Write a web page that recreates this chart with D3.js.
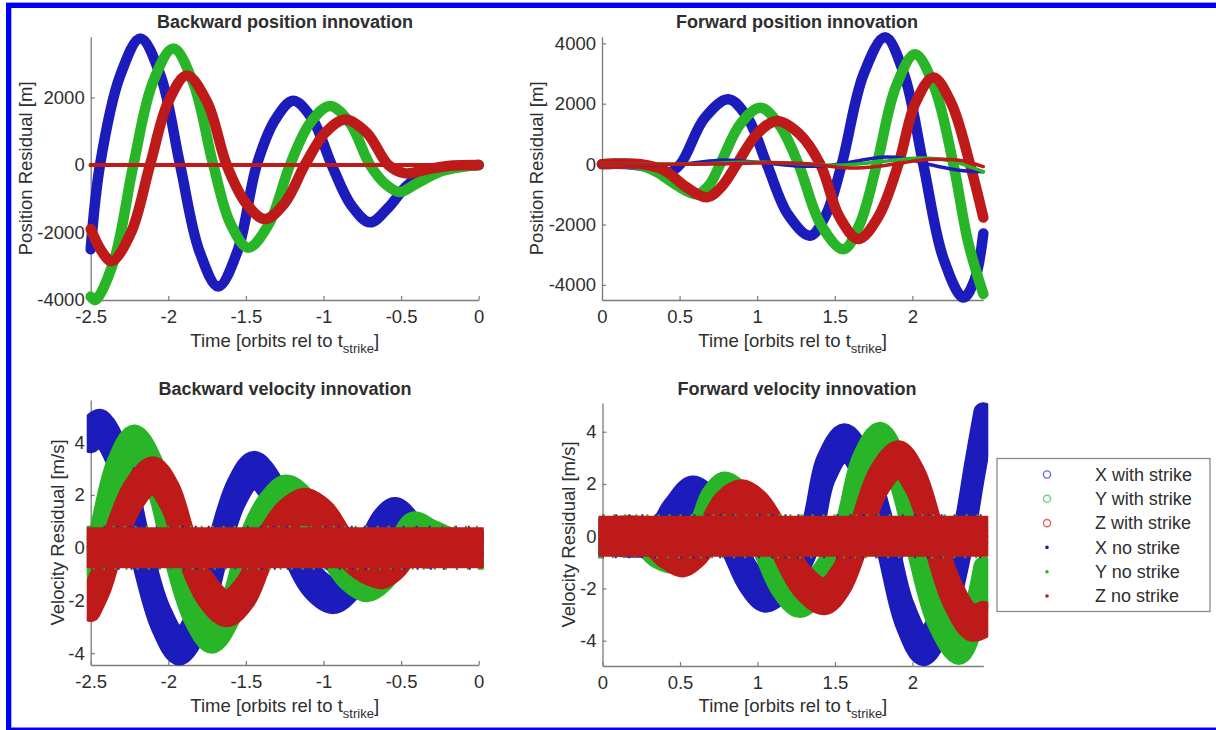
<!DOCTYPE html>
<html>
<head>
<meta charset="utf-8">
<script src="https://cdn.jsdelivr.net/npm/d3@7"></script>
<style>
  html, body { margin: 0; padding: 0; background: #fff; }
  svg text { font-family: "Liberation Sans", Arial, Helvetica, sans-serif; fill: #2e2e2e; }
</style>
</head>
<body>
<svg id="fig" width="1216" height="730"></svg>
<script>
// ---- data: [time in orbits, residual] ----
const xTicksBack = [-2.5, -2, -1.5, -1, -0.5, 0];
const xTicksFwd = [0, 0.5, 1, 1.5, 2];
const yTicksPosBack = [-4000, -2000, 0, 2000];
const yTicksPosFwd = [-4000, -2000, 0, 2000, 4000];
const yTicksVel = [-4, -2, 0, 2, 4];
const legendLabels = ["X with strike", "Y with strike", "Z with strike", "X no strike", "Y no strike", "Z no strike"];

// backward position [m]
const backPosX = [[-2.5,-2500],[-2.44,0],[-2.31,2650],[-2.18,3750],[-2.05,2650],[-1.924,0],[-1.80,-2550],[-1.678,-3600],[-1.554,-2550],[-1.43,0],[-1.31,1350],[-1.195,1900],[-1.07,1350],[-0.947,0],[-0.82,-1200],[-0.70,-1700],[-0.58,-1250],[-0.46,-600],[-0.33,-250],[-0.18,-80],[0,0]];
const backPosY = [[-2.5,-3900],[-2.47,-4000],[-2.35,-2830],[-2.225,0],[-2.10,2440],[-1.968,3450],[-1.84,2440],[-1.71,0],[-1.60,-1730],[-1.485,-2450],[-1.35,-1730],[-1.216,0],[-1.087,1240],[-0.958,1750],[-0.83,1240],[-0.70,0],[-0.60,-570],[-0.507,-800],[-0.40,-550],[-0.25,-200],[-0.10,-50],[0,0]];
const backPosZ = [[-2.5,-1900],[-2.43,-2550],[-2.365,-2850],[-2.24,-2000],[-2.118,0],[-2.0,1870],[-1.881,2650],[-1.75,1870],[-1.624,0],[-1.50,-1130],[-1.377,-1600],[-1.25,-1130],[-1.12,0],[-0.99,950],[-0.861,1350],[-0.72,950],[-0.582,0],[-0.47,-250],[-0.35,-150],[-0.2,-30],[0,0]];
const backPosNoX = [[-2.5,0],[-2,0],[-1.5,0],[-1,0],[-0.5,0],[0,0]];
const backPosNoY = [[-2.5,0],[-2,0],[-1.5,0],[-1,0],[-0.5,0],[0,0]];
const backPosNoZ = [[-2.5,0],[-2,0],[-1.5,0],[-1,0],[-0.5,0],[0,0]];

// forward position [m]
const fwdPosX = [[0,0],[0.15,0],[0.3,-100],[0.42,-300],[0.505,0],[0.66,1520],[0.815,2150],[0.94,1520],[1.062,0],[1.20,-1680],[1.341,-2370],[1.443,-1680],[1.545,0],[1.685,2970],[1.824,4200],[1.947,2970],[2.07,0],[2.20,-3125],[2.328,-4420],[2.40,-3850],[2.457,-2300]];
const fwdPosY = [[0,0],[0.2,0],[0.35,-250],[0.48,-700],[0.612,-1000],[0.69,-700],[0.762,0],[0.89,1320],[1.019,1870],[1.14,1320],[1.266,0],[1.41,-2000],[1.556,-2820],[1.66,-2000],[1.771,0],[1.894,2570],[2.017,3640],[2.14,2570],[2.264,0],[2.36,-2600],[2.457,-4300]];
const fwdPosZ = [[0,0],[0.25,0],[0.4,-200],[0.54,-750],[0.676,-1100],[0.77,-750],[0.869,0],[1.0,1010],[1.127,1430],[1.27,1010],[1.406,0],[1.53,-1750],[1.652,-2480],[1.78,-1750],[1.91,0],[2.02,2030],[2.135,2870],[2.25,2030],[2.371,0],[2.457,-1770]];
const fwdPosNoX = [[0,0],[0.5,0],[0.65,80],[0.8,140],[1.0,60],[1.2,-40],[1.4,-70],[1.6,60],[1.8,230],[1.95,190],[2.1,0],[2.3,-200],[2.457,-250]];
const fwdPosNoY = [[0,0],[0.6,0],[0.9,60],[1.2,40],[1.5,-40],[1.8,80],[2.05,200],[2.25,100],[2.457,-250]];
const fwdPosNoZ = [[0,0],[0.7,0],[1.0,40],[1.3,20],[1.6,-130],[1.8,-60],[2.1,150],[2.3,130],[2.457,-80]];

// backward velocity [m/s] (centre of the scatter band)
const backVelX = [[-2.5,4.3],[-2.44,4.55],[-2.31,3.2],[-2.18,0],[-2.05,-2.65],[-1.93,-3.75],[-1.80,-2.65],[-1.678,0],[-1.56,2.1],[-1.45,2.95],[-1.32,2.1],[-1.195,0],[-1.07,-1.3],[-0.94,-1.8],[-0.82,-1.3],[-0.70,0],[-0.62,0.85],[-0.54,1.2],[-0.46,0.85],[-0.38,0],[-0.2,0],[0,0]];
const backVelY = [[-2.5,-0.5],[-2.46,0],[-2.34,2.8],[-2.22,3.95],[-2.09,2.8],[-1.968,0],[-1.84,-2.35],[-1.72,-3.3],[-1.60,-2.35],[-1.485,0],[-1.36,1.45],[-1.24,2.05],[-1.10,1.45],[-0.958,0],[-0.84,-0.95],[-0.72,-1.35],[-0.61,-0.95],[-0.507,0],[-0.42,0.65],[-0.3,0.35],[-0.15,0],[0,0]];
const backVelZ = [[-2.5,-2.1],[-2.43,-1.2],[-2.365,0],[-2.23,1.95],[-2.1,2.75],[-1.99,1.95],[-1.881,0],[-1.75,-1.65],[-1.624,-2.3],[-1.50,-1.65],[-1.377,0],[-1.25,1.1],[-1.12,1.55],[-0.99,1.1],[-0.861,0],[-0.73,-0.65],[-0.62,-0.85],[-0.53,-0.5],[-0.45,0],[-0.2,0],[0,0]];
const backVelNoX = [[-2.5,0],[-2,0],[-1.5,0],[-1,0],[-0.5,0],[0,0]];
const backVelNoY = [[-2.5,0],[-2,0],[-1.5,0],[-1,0],[-0.5,0],[0,0]];
const backVelNoZ = [[-2.5,0],[-2,0],[-1.5,0],[-1,0],[-0.5,0],[0,0]];

// forward velocity [m/s]
const fwdVelX = [[0,0],[0.35,0],[0.45,0.8],[0.58,1.6],[0.7,1.1],[0.815,0],[0.94,-1.55],[1.05,-2.2],[1.2,-1.55],[1.341,0],[1.44,2.55],[1.56,3.6],[1.69,2.55],[1.824,0],[1.95,-3.0],[2.07,-4.25],[2.2,-3.0],[2.328,0],[2.40,2.5],[2.457,4.4]];
const fwdVelY = [[0,0],[0.25,0],[0.35,-0.5],[0.45,-0.7],[0.53,-0.45],[0.612,0],[0.70,1.25],[0.79,1.75],[0.90,1.25],[1.019,0],[1.15,-1.7],[1.27,-2.4],[1.41,-1.7],[1.556,0],[1.67,2.6],[1.79,3.65],[1.90,2.6],[2.017,0],[2.16,-3.0],[2.30,-4.2],[2.39,-3.2],[2.457,-1.5]];
const fwdVelZ = [[0,0],[0.3,0],[0.4,-0.5],[0.52,-0.85],[0.6,-0.55],[0.676,0],[0.78,1.05],[0.9,1.45],[1.01,1.05],[1.127,0],[1.28,-1.65],[1.43,-2.3],[1.54,-1.65],[1.652,0],[1.78,2.1],[1.91,2.95],[2.02,2.1],[2.135,0],[2.25,-2.1],[2.38,-3.3],[2.457,-3.2]];
const fwdVelNoX = [[0,0],[0.5,0],[1,0],[1.5,0],[2,0],[2.457,0]];
const fwdVelNoY = [[0,0],[0.5,0],[1,0],[1.5,0],[2,0],[2.457,0]];
const fwdVelNoZ = [[0,0],[0.5,0],[1,0],[1.5,0],[2,0],[2.457,0]];

const colBlue = "rgb(28,28,188)", colGreen = "rgb(40,182,40)", colRed = "rgb(190,26,26)";
const colors = [colBlue, colGreen, colRed];

var svg = d3.select("#fig");
var defs = svg.append("defs");

// blue frame round the figure
svg.append("rect").attr("x", 6).attr("y", 2).attr("width", 1210).attr("height", 1).attr("fill", "#9a9aff");
svg.append("rect").attr("x", 6).attr("y", 3).attr("width", 1210).attr("height", 5).attr("fill", "#0000f5");
svg.append("rect").attr("x", 6).attr("y", 3).attr("width", 5).attr("height", 727).attr("fill", "#0000f5");
svg.append("rect").attr("x", 11).attr("y", 8).attr("width", 1).attr("height", 719).attr("fill", "#b0b0ff");
svg.append("rect").attr("x", 6).attr("y", 727.5).attr("width", 1210).attr("height", 3).attr("fill", "#0000f5");

function makeAxes(p, idx) {
  var x = d3.scaleLinear().domain(p.xd).range([p.left, p.right]);
  var y = d3.scaleLinear().domain(p.yd).range([p.bottom, p.top]);
  var g = svg.append("g");

  var xa = g.append("g").attr("transform", "translate(0," + p.bottom + ")")
    .call(d3.axisBottom(x).tickValues(p.xt).tickSize(-4).tickSizeOuter(0).tickPadding(10)
      .tickFormat(function(d){ return String(d); }));
  var ya = g.append("g").attr("transform", "translate(" + p.left + ",0)")
    .call(d3.axisLeft(y).tickValues(p.yt).tickSize(-4).tickSizeOuter(0).tickPadding(6)
      .tickFormat(function(d){ return String(d); }));
  [xa, ya].forEach(function(a){
    a.attr("font-family", null).attr("font-size", null);
    a.select(".domain").attr("stroke", "#7c7c7c").attr("stroke-width", 1.3);
    a.selectAll(".tick line").attr("stroke", "#7c7c7c").attr("stroke-width", 1.2);
    a.selectAll(".tick text").attr("font-size", 18.5).attr("fill", "#3a3a3a");
  });

  // title
  g.append("text").attr("x", p.tx).attr("y", p.ty).attr("text-anchor", "middle")
    .attr("font-size", 18).attr("font-weight", "bold").attr("fill", "#222").text(p.title);

  // x label with subscript
  var xl = g.append("text").attr("x", (p.left + p.right) / 2).attr("y", p.xly)
    .attr("text-anchor", "middle").attr("font-size", 18.5).attr("fill", "#3a3a3a");
  xl.append("tspan").text("Time [orbits rel to t");
  xl.append("tspan").attr("font-size", 13).attr("dy", 6).text("strike");
  xl.append("tspan").attr("dy", -6).text("]");

  // y label
  var cy = (p.top + p.bottom) / 2;
  g.append("text").attr("transform", "translate(" + (p.ylx + 6.5) + "," + cy + ") rotate(-90)")
    .attr("text-anchor", "middle").attr("font-size", 18.5).attr("fill", "#3a3a3a").text(p.ylabel);

  // markers may spill a little past the axes, but not over the tick labels
  defs.append("clipPath").attr("id", "clip" + idx).append("rect")
    .attr("x", p.left - 4).attr("y", p.top - 20).attr("width", p.right - p.left + 9)
    .attr("height", p.bottom - p.top + 40);

  return {x: x, y: y, clip: "url(#clip" + idx + ")"};
}

function drawLine(sc, data, color, w) {
  var line = d3.line().x(function(d){ return sc.x(d[0]); }).y(function(d){ return sc.y(d[1]); })
    .curve(d3.curveCatmullRom.alpha(0.5));
  svg.append("path").datum(data).attr("d", line).attr("fill", "none")
    .attr("stroke", color).attr("stroke-width", w)
    .attr("stroke-linejoin", "round").attr("stroke-linecap", "round");
}

// a scatter band: filled strip round the centre values plus a wide outline
function drawBand(sc, data, color, halfPx, strokeW, dash, join) {
  var area = d3.area().x(function(d){ return sc.x(d[0]); })
    .y0(function(d){ return sc.y(d[1]) + halfPx; })
    .y1(function(d){ return sc.y(d[1]) - halfPx; })
    .curve(d3.curveCatmullRom.alpha(0.5));
  var p = svg.append("path").datum(data).attr("d", area)
    .attr("clip-path", sc.clip)
    .attr("fill", dash ? "none" : color)
    .attr("stroke", color).attr("stroke-width", strokeW)
    .attr("stroke-linejoin", join || "round").attr("stroke-linecap", "butt");
  if (dash) p.attr("stroke-dasharray", dash);
}

var panels = [
  {title: "Backward position innovation", left: 90.7, right: 478.7, top: 36.7, bottom: 300,
   xd: [-2.5, 0], yd: [-4000, 3800], xt: xTicksBack, yt: yTicksPosBack,
   tx: 285, ty: 28, xly: 346.5, ylx: 25, ylabel: "Position Residual [m]"},
  {title: "Forward position innovation", left: 602, right: 983.3, top: 36.7, bottom: 300,
   xd: [0, 2.457], yd: [-4500, 4220], xt: xTicksFwd, yt: yTicksPosFwd,
   tx: 797, ty: 28, xly: 346.5, ylx: 536, ylabel: "Position Residual [m]"},
  {title: "Backward velocity innovation", left: 90.7, right: 478.7, top: 400, bottom: 665,
   xd: [-2.5, 0], yd: [-4.45, 5.6], xt: xTicksBack, yt: yTicksVel,
   tx: 285, ty: 395, xly: 711.5, ylx: 57, ylabel: "Velocity Residual [m/s]"},
  {title: "Forward velocity innovation", left: 602.5, right: 983.3, top: 403, bottom: 666,
   xd: [0, 2.457], yd: [-4.97, 5.1], xt: xTicksFwd, yt: yTicksVel,
   tx: 797, ty: 395, xly: 711.5, ylx: 568, ylabel: "Velocity Residual [m/s]"}
];

// position panels
var s0 = makeAxes(panels[0], 0);
[backPosX, backPosY, backPosZ].forEach(function(d, i){ drawLine(s0, d, colors[i], 10.5); });
[backPosNoX, backPosNoY, backPosNoZ].forEach(function(d, i){ drawLine(s0, d, colors[i], 4); });

var s1 = makeAxes(panels[1], 1);
[fwdPosX, fwdPosY, fwdPosZ].forEach(function(d, i){ drawLine(s1, d, colors[i], 10.5); });
[fwdPosNoX, fwdPosNoY, fwdPosNoZ].forEach(function(d, i){ drawLine(s1, d, colors[i], 3.5); });

// velocity panels: with-strike bands, then the no-strike bands on top
var s2 = makeAxes(panels[2], 2);
[backVelX, backVelY, backVelZ].forEach(function(d, i){ drawBand(s2, d, colors[i], 9, 20); });
drawBand(s2, backVelNoX, colBlue, 10, 24, "2 11", "miter");
drawBand(s2, backVelNoY, colGreen, 10, 24, "2 9", "miter");
drawBand(s2, backVelNoZ, colRed, 10, 21, null, "miter");

var s3 = makeAxes(panels[3], 3);
[fwdVelX, fwdVelY, fwdVelZ].forEach(function(d, i){ drawBand(s3, d, colors[i], 9, 20); });
drawBand(s3, fwdVelNoX, colBlue, 10, 24, "2 11", "miter");
drawBand(s3, fwdVelNoY, colGreen, 10, 24, "2 9", "miter");
drawBand(s3, fwdVelNoZ, colRed, 10, 21, null, "miter");

// legend
var lg = svg.append("g");
lg.append("rect").attr("x", 997).attr("y", 458.5).attr("width", 213).attr("height", 153)
  .attr("fill", "#fff").attr("stroke", "#8a8a8a").attr("stroke-width", 1.3);
var rowY = d3.scalePoint().domain(legendLabels).range([474.5, 596]);
legendLabels.forEach(function(lab, i){
  var cy = rowY(lab);
  var c = colors[i % 3];
  if (i < 3) {
    lg.append("circle").attr("cx", 1047).attr("cy", cy).attr("r", 3.6)
      .attr("fill", "none").attr("stroke", c).attr("stroke-width", 1.4).attr("opacity", 0.65);
  } else {
    lg.append("circle").attr("cx", 1047).attr("cy", cy).attr("r", 1.8).attr("fill", c);
  }
  lg.append("text").attr("x", 1095).attr("y", cy + 6.3).attr("font-size", 18)
    .attr("fill", "#2a2a2a").text(lab);
});
</script>
</body>
</html>
